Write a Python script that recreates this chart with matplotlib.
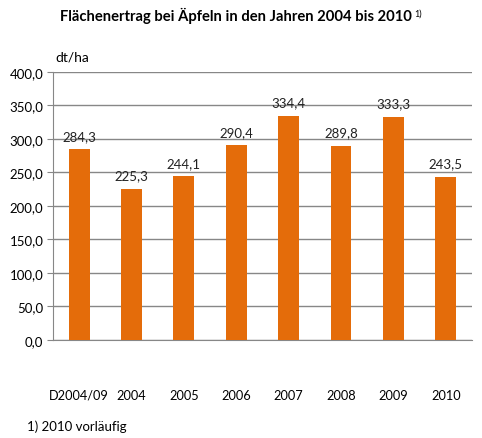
import numpy as np
import matplotlib.pyplot as plt

plt.rcParams['font.family'] = ['Lato', 'DejaVu Sans']

categories = ['D2004/09', '2004', '2005', '2006', '2007', '2008', '2009', '2010']
values = [284.3, 225.3, 244.1, 290.4, 334.4, 289.8, 333.3, 243.5]
yticks = [0, 50, 100, 150, 200, 250, 300, 350, 400]

bar_color = '#E46C0A'
grid_color = '#878787'

fig = plt.figure(figsize=(4.82, 4.39), dpi=100)
ax = fig.add_axes([0.110, 0.2232, 0.869, 0.6108])

x = np.arange(len(categories))
ax.bar(x, values, width=0.4, color=bar_color, zorder=3)

for xi, v in zip(x, values):
    ax.text(xi, v + 11, f'{v:.1f}'.replace('.', ','), ha='center', va='bottom',
            fontsize=9.5, color='#222222', zorder=4)

ax.set_xlim(-0.5, len(categories) - 0.5)
ax.set_ylim(0, 400)
ax.set_yticks(yticks)
ax.set_yticklabels([f'{t:.1f}'.replace('.', ',') for t in yticks], fontsize=9.5)
ax.yaxis.grid(True, color=grid_color, linewidth=1, zorder=0)
ax.tick_params(axis='y', length=4, color=grid_color, pad=3)

ax.set_xticks(x)
ax.set_xticklabels(categories, fontsize=9.2)
ax.tick_params(axis='x', length=0, pad=35)

for s in ['top', 'right']:
    ax.spines[s].set_visible(False)
ax.spines['left'].set_color(grid_color)
ax.spines['bottom'].set_color(grid_color)

# title with footnote marker placed right after it
title = fig.text(0.125, 0.963, 'Flächenertrag bei Äpfeln in den Jahren 2004 bis 2010', fontsize=10.6,
                 fontweight='bold', va='center', ha='left')
fig.canvas.draw()
bb = title.get_window_extent().transformed(fig.transFigure.inverted())
fig.text(bb.x1 + 0.005, 0.968, '1)', fontsize=6.5, va='center', ha='left')
fig.text(0.114, 0.870, 'dt/ha', fontsize=10, va='center', ha='left')
fig.text(0.056, 0.027, '1) 2010 vorläufig', fontsize=9.5, va='center', ha='left')

fig.savefig('out.png', dpi=100)
